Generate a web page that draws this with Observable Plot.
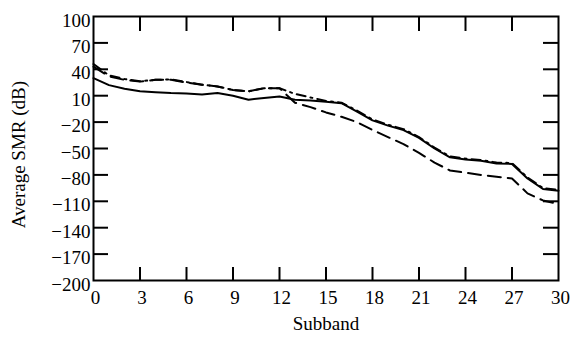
<!DOCTYPE html>
<html>
<head>
<meta charset="utf-8">
<script src="https://cdn.jsdelivr.net/npm/d3@7"></script>
<script src="https://cdn.jsdelivr.net/npm/@observablehq/plot@0.6"></script>
<style>
  html, body { margin: 0; padding: 0; background: #fff; }
</style>
</head>
<body>
<div id="chart"></div>
<script>
const subbands = d3.range(0, 31);
const solidSeries = [30, 22, 18, 15, 14, 13, 12.5, 11.5, 13, 10, 5.5, 7.5, 9, 5.5, 4.5, 3, 1.5, -8, -18, -24, -29, -38, -50, -60, -62.5, -64, -67, -67.5, -84, -96, -98];
const dashedSeries = [43, 32, 28, 26, 28, 28, 25, 22.5, 20.5, 16.5, 15, 18.5, 18.5, 2, -3, -9, -14, -20, -29, -37, -45, -55, -66, -75, -77.5, -80, -82, -84, -101, -109, -113];
const dashDotSeries = [46, 33, 29, 26.5, 28, 28.5, 25.5, 22.5, 20.5, 16.5, 15, 18.5, 18.5, 12, 8, 4, 2, -7, -17, -23, -28, -37, -49, -59, -61.5, -63, -66, -66.5, -83, -95, -97];
const yTicks = [100, 70, 40, 10, -20, -50, -80, -110, -140, -170, -200];
const xTicks = [0, 3, 6, 9, 12, 15, 18, 21, 24, 27, 30];
const xLabel = "Subband";
const yLabel = "Average SMR (dB)";

const toRows = (vals) => subbands.map((x, i) => ({x, y: vals[i]}));
const innerY = yTicks.filter(d => d !== 100 && d !== -200);
const innerX = xTicks.filter(d => d !== 0 && d !== 30);

const W = 574, H = 339, mL = 93, mR = 16, mT = 16, mB = 59;
const pw = W - mL - mR, ph = H - mT - mB;

const chart = Plot.plot({
  width: W,
  height: H,
  marginLeft: mL,
  marginRight: mR,
  marginTop: mT,
  marginBottom: mB,
  style: {fontFamily: "'Liberation Serif', 'Times New Roman', serif", fontSize: "19px", color: "#000", background: "#fff"},
  x: {domain: [0, 30]},
  y: {domain: [-200, 100]},
  marks: [
    Plot.axisY({ticks: yTicks, tickSize: 0, tickPadding: 3, dy: 4, label: null,
      tickFormat: d => d < 0 ? "\u2212" + (-d) : String(d)}),
    Plot.axisX({ticks: xTicks, tickSize: 0, tickPadding: 10, dx: 2, label: null, tickFormat: d => String(d)}),
    // inward ticks
    Plot.tickY(innerY, {y: d => d, insetRight: pw - 15, stroke: "#000", strokeWidth: 2}),
    Plot.tickY(innerY, {y: d => d, insetLeft: pw - 15, stroke: "#000", strokeWidth: 2}),
    Plot.tickX(innerX, {x: d => d, insetTop: ph - 13, stroke: "#000", strokeWidth: 2}),
    Plot.tickX(innerX, {x: d => d, insetBottom: ph - 15, stroke: "#000", strokeWidth: 2}),
    Plot.frame({stroke: "#000", strokeWidth: 2}),
    Plot.line(toRows(dashedSeries), {x: "x", y: "y", stroke: "#000", strokeWidth: 2, strokeDasharray: "13,7"}),
    Plot.line(toRows(dashDotSeries), {x: "x", y: "y", stroke: "#000", strokeWidth: 2, strokeDasharray: "9,5,2,5"}),
    Plot.line(toRows(solidSeries), {x: "x", y: "y", stroke: "#000", strokeWidth: 2}),
    Plot.text([yLabel], {frameAnchor: "left", y: () => -57, rotate: -90, dx: -75, textAnchor: "middle", fill: "#000"}),
    Plot.text([xLabel], {frameAnchor: "bottom", x: () => 15, dy: 49, fill: "#000"})
  ]
});
document.getElementById("chart").appendChild(chart);
</script>
</body>
</html>
